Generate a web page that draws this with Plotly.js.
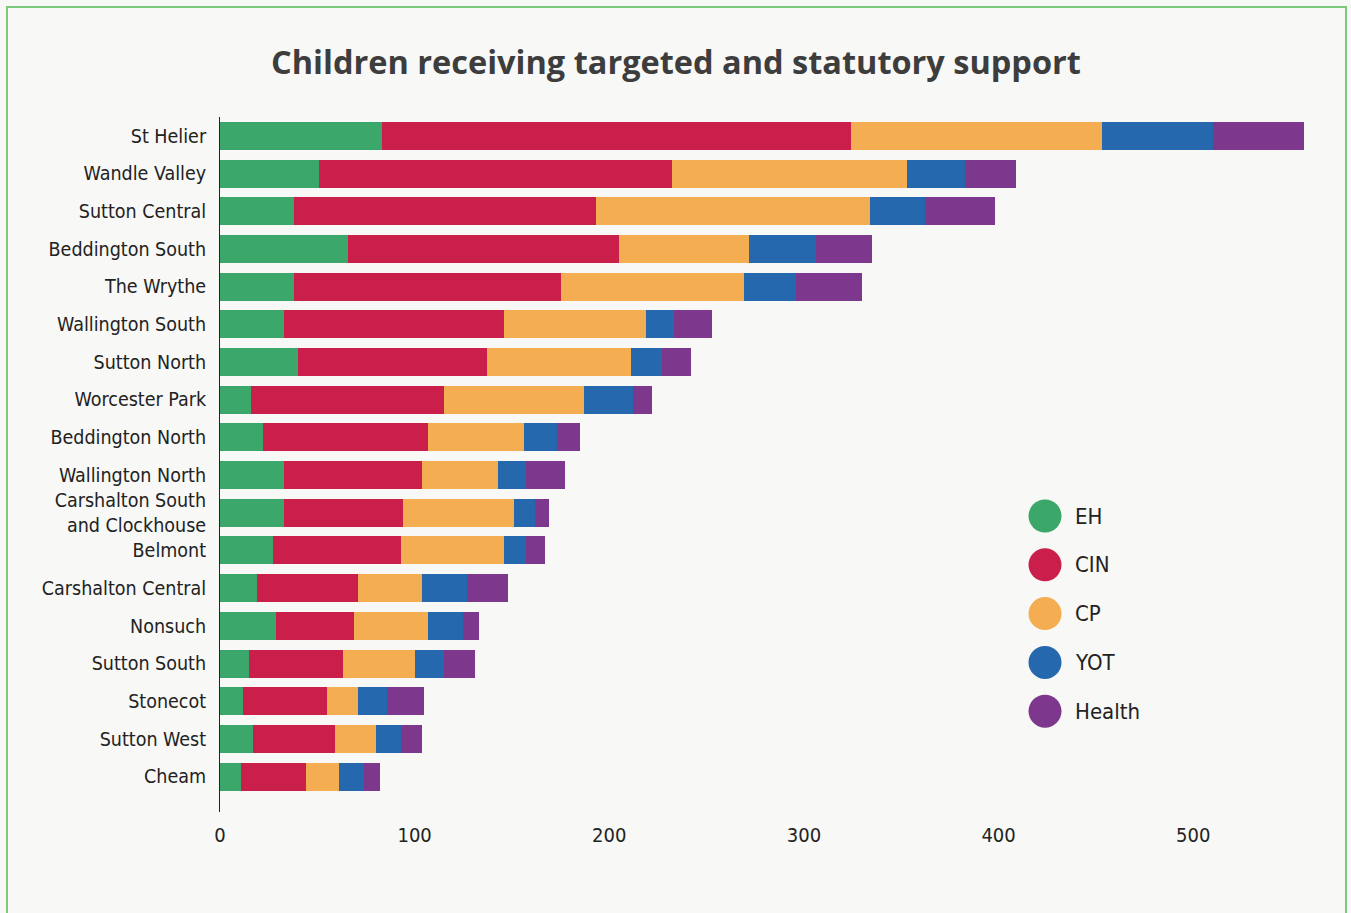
<!DOCTYPE html>
<html>
<head>
<meta charset="utf-8">
<script src="https://cdn.plot.ly/plotly-3.0.1.min.js"></script>
<style>
  html, body { margin: 0; padding: 0; background: #f8f8f6; width: 1351px; height: 913px; overflow: hidden; }
  #frame { position: absolute; left: 6px; top: 6px; width: 1341px; height: 940px; border: 2px solid #7ccb7c; box-sizing: border-box; }
  #chart { position: absolute; left: 0; top: 0; width: 1351px; height: 913px; }
</style>
</head>
<body>
<div id="frame"></div>
<div id="chart"></div>
<script>
const wards = ["St Helier", "Wandle Valley", "Sutton Central", "Beddington South", "The Wrythe",
  "Wallington South", "Sutton North", "Worcester Park", "Beddington North", "Wallington North",
  "Carshalton South<br>and Clockhouse", "Belmont", "Carshalton Central", "Nonsuch", "Sutton South",
  "Stonecot", "Sutton West", "Cheam"];

const seriesNames = ["EH", "CIN", "CP", "YOT", "Health"];
const seriesColors = ["#3ba76a", "#cb1f4b", "#f5ad52", "#2568ae", "#7d378d"];

const EH     = [83, 51, 38, 66, 38, 33, 40, 16, 22, 33, 33, 27, 19, 29, 15, 12, 17, 11];
const CIN    = [241, 181, 155, 139, 137, 113, 97, 99, 85, 71, 61, 66, 52, 40, 48, 43, 42, 33];
const CP     = [129, 121, 141, 67, 94, 73, 74, 72, 49, 39, 57, 53, 33, 38, 37, 16, 21, 17];
const YOT    = [57, 30, 28, 34, 27, 14, 16, 25, 17, 14, 11, 11, 23, 18, 15, 15, 13, 13];
const Health = [47, 26, 36, 29, 34, 20, 15, 10, 12, 20, 7, 10, 21, 8, 16, 19, 11, 8];

const seriesValues = [EH, CIN, CP, YOT, Health];

const labelFont = "'DejaVu Sans Condensed', 'Liberation Sans Narrow', 'Arial Narrow', sans-serif";

const traces = seriesNames.map((name, i) => ({
  type: "bar",
  orientation: "h",
  name: name,
  x: seriesValues[i],
  y: wards,
  marker: { color: seriesColors[i], line: { width: 0 } },
  showlegend: false,
  hoverinfo: "x+name"
}));

// Layout geometry (pixels)
const L = 220, R = 31, T = 117, B = 101;
const W = 1351 - L - R, H = 913 - T - B;
const px = v => (v - L) / W;
const py = v => (913 - B - v) / H;

const shapes = [];
const annotations = [];
seriesNames.forEach((name, i) => {
  const cy = 516 + 48.8 * i;
  shapes.push({
    type: "circle", xref: "paper", yref: "paper",
    xsizemode: "pixel", ysizemode: "pixel",
    xanchor: px(1045), yanchor: py(cy),
    x0: -16.5, x1: 16.5, y0: -16.5, y1: 16.5,
    fillcolor: seriesColors[i], line: { width: 0 }
  });
  annotations.push({
    xref: "paper", yref: "paper", x: px(1073), y: py(cy),
    xanchor: "left", yanchor: "middle", showarrow: false,
    text: name, font: { family: labelFont, size: 22, color: "#222" }
  });
});

const layout = {
  width: 1351, height: 913,
  paper_bgcolor: "rgba(0,0,0,0)",
  plot_bgcolor: "rgba(0,0,0,0)",
  barmode: "stack",
  bargap: 0.257,
  margin: { l: L, r: R, t: T, b: B, pad: 0 },
  title: {
    text: "<b>Children receiving targeted and statutory support</b>",
    font: { family: "'Open Sans', 'Lato', sans-serif", size: 32.5, color: "#3d3d3d" },
    x: 676 / 1351, xanchor: "center", xref: "container",
    y: 1 - 63 / 913, yanchor: "middle", yref: "container"
  },
  xaxis: {
    range: [0, W / 1.9464],
    tickvals: [0, 100, 200, 300, 400, 500],
    showgrid: false, zeroline: false, showline: false, ticks: "",
    tickfont: { family: labelFont, size: 20, color: "#222" },
    ticklabelstandoff: 9,
    fixedrange: true
  },
  yaxis: {
    type: "category",
    categoryorder: "array", categoryarray: wards,
    range: [17.94, -0.5],
    showgrid: false, zeroline: false,
    showline: true, linecolor: "#222", linewidth: 1,
    ticks: "",
    tickfont: { family: labelFont, size: 19.5, color: "#222" },
    ticklabelstandoff: 9,
    fixedrange: true
  },
  shapes: shapes,
  annotations: annotations,
  font: { family: labelFont, color: "#222" }
};

Plotly.newPlot("chart", traces, layout, { displayModeBar: false, staticPlot: true });
</script>
</body>
</html>
